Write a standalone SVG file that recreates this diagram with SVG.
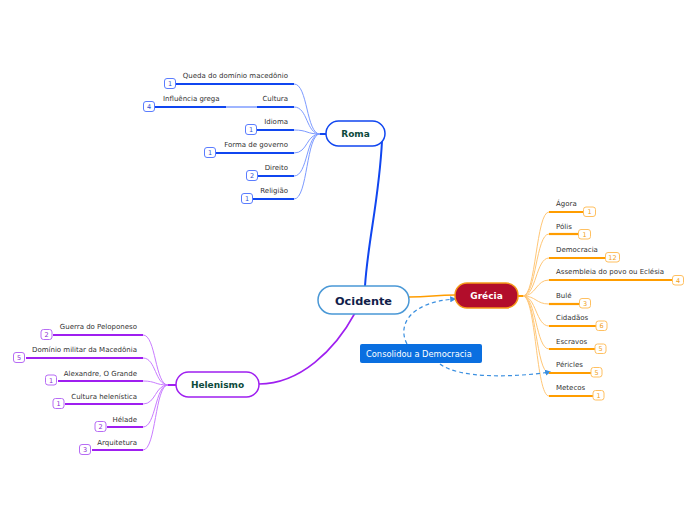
<svg xmlns="http://www.w3.org/2000/svg" width="696" height="520" viewBox="0 0 696 520">
<defs>
<marker id="arr" viewBox="0 0 10 10" refX="8" refY="5" markerWidth="6" markerHeight="6" orient="auto" markerUnits="userSpaceOnUse">
<path d="M0,0 L10,5 L0,10 z" fill="#3a8fe0"/>
</marker>
</defs>
<style>
text{font-family:"DejaVu Sans",Verdana,sans-serif}
.lbl{font-size:7px;fill:#333}
.bn{font-size:6.5px;text-anchor:middle}
.rc{fill:none;stroke:#7d9bff;stroke-width:1}
.ru{stroke:#1046f0;stroke-width:2.2;fill:none}
.rb{fill:#fff;stroke:#5b7dff;stroke-width:1}
.rt{fill:#3050d0}
.gc{fill:none;stroke:#ffc777;stroke-width:1}
.gu{stroke:#ff9d00;stroke-width:2.2;fill:none}
.gb{fill:#fff;stroke:#ffc060;stroke-width:1}
.gt{fill:#f0a020}
.hc{fill:none;stroke:#c97cff;stroke-width:1}
.hu{stroke:#9f1ff0;stroke-width:2.2;fill:none}
.hb{fill:#fff;stroke:#b76cf5;stroke-width:1}
.ht{fill:#8a2ad0}
.tn{font-weight:bold;font-size:9px;text-anchor:middle}
</style>

<g id="connectors">
<path d="M382,141 C 379,200 368,240 365,286" fill="none" stroke="#1046f0" stroke-width="2"/>
<path d="M409,297 C 430,297 435,295 455,295" fill="none" stroke="#ff9d00" stroke-width="1.5"/>
<path d="M259,384 C 300,384 335,350 355,313" fill="none" stroke="#9f1ff0" stroke-width="1.6"/>
<!-- Roma branches -->
<line x1="326" y1="134" x2="320" y2="134" stroke="#1046f0" stroke-width="2"/>
<path class="rc" d="M320,134 C 306,134 308,84 294,84"/>
<path class="rc" d="M320,134 C 306,134 308,107 294,107"/>
<path class="rc" d="M320,134 C 306,134 308,130 294,130"/>
<path class="rc" d="M320,134 C 306,134 308,153 294,153"/>
<path class="rc" d="M320,134 C 306,134 308,176 294,176"/>
<path class="rc" d="M320,134 C 306,134 308,199 294,199"/>
<line x1="226" y1="107" x2="257" y2="107" stroke="#9fb5ff" stroke-width="2"/>
<!-- Grécia branches -->
<line x1="518" y1="296" x2="523" y2="296" stroke="#ff9d00" stroke-width="2"/>
<path class="gc" d="M523,296 C 536,296 536,212 549,212"/>
<path class="gc" d="M523,296 C 536,296 536,234 549,234"/>
<path class="gc" d="M523,296 C 536,296 536,258 549,258"/>
<path class="gc" d="M523,296 C 536,296 536,280 549,280"/>
<path class="gc" d="M523,296 C 536,296 536,304 549,304"/>
<path class="gc" d="M523,296 C 536,296 536,326 549,326"/>
<path class="gc" d="M523,296 C 536,296 536,349 549,349"/>
<path class="gc" d="M523,296 C 536,296 536,373 549,373"/>
<path class="gc" d="M523,296 C 536,296 536,396 549,396"/>
<!-- Helenismo branches -->
<line x1="176" y1="385" x2="168" y2="385" stroke="#9f1ff0" stroke-width="2"/>
<path class="hc" d="M168,385 C 155,385 156,335 143,335"/>
<path class="hc" d="M168,385 C 155,385 156,358 143,358"/>
<path class="hc" d="M168,385 C 155,385 156,381 143,381"/>
<path class="hc" d="M168,385 C 155,385 156,404 143,404"/>
<path class="hc" d="M168,385 C 155,385 156,427 143,427"/>
<path class="hc" d="M168,385 C 155,385 156,450 143,450"/>
<!-- dashed relations -->
<path d="M407,344 C 397,325 410,302 455,299" fill="none" stroke="#3a8fe0" stroke-width="1.2" stroke-dasharray="4,3" marker-end="url(#arr)"/>
<path d="M440,364 C 458,378 510,378 550,372" fill="none" stroke="#3a8fe0" stroke-width="1.2" stroke-dasharray="4,3" marker-end="url(#arr)"/>
</g>

<g id="ocidente">
<rect x="318" y="286" width="91" height="28" rx="14" fill="#fff" stroke="#4a98d6" stroke-width="1.5"/>
<text x="363.5" y="304.5" font-size="11.3" font-weight="bold" text-anchor="middle" fill="#10204a">Ocidente</text>
</g>

<g id="roma">
<rect x="326" y="121" width="59" height="25" rx="12.5" fill="#fff" stroke="#1046f0" stroke-width="1.5"/>
<text class="tn" x="355.5" y="137" fill="#0d4a3c">Roma</text>
</g>
<g id="roma-queda">
<line class="ru" x1="176" y1="84" x2="294" y2="84"/>
<text class="lbl" x="288" y="78" text-anchor="end">Queda do domínio macedônio</text>
<rect class="rb" x="164.5" y="78.5" width="11" height="10" rx="2.5"/><text class="bn rt" x="170" y="86">1</text>
</g>
<g id="roma-cultura">
<line class="ru" x1="257" y1="107" x2="294" y2="107"/>
<text class="lbl" x="288" y="101" text-anchor="end">Cultura</text>
</g>
<g id="roma-influencia">
<line class="ru" x1="155" y1="107" x2="226" y2="107"/>
<text class="lbl" x="163" y="101">Influência grega</text>
<rect class="rb" x="143.5" y="101.5" width="11" height="10" rx="2.5"/><text class="bn rt" x="149" y="109">4</text>
</g>
<g id="roma-idioma">
<line class="ru" x1="257" y1="130" x2="294" y2="130"/>
<text class="lbl" x="288" y="124" text-anchor="end">Idioma</text>
<rect class="rb" x="245.5" y="124.5" width="11" height="10" rx="2.5"/><text class="bn rt" x="251" y="132">1</text>
</g>
<g id="roma-forma">
<line class="ru" x1="216" y1="153" x2="294" y2="153"/>
<text class="lbl" x="288" y="147" text-anchor="end">Forma de governo</text>
<rect class="rb" x="204.5" y="147.5" width="11" height="10" rx="2.5"/><text class="bn rt" x="210" y="155">1</text>
</g>
<g id="roma-direito">
<line class="ru" x1="258" y1="176" x2="294" y2="176"/>
<text class="lbl" x="288" y="170" text-anchor="end">Direito</text>
<rect class="rb" x="246.5" y="170.5" width="11" height="10" rx="2.5"/><text class="bn rt" x="252" y="178">2</text>
</g>
<g id="roma-religiao">
<line class="ru" x1="253" y1="199" x2="294" y2="199"/>
<text class="lbl" x="288" y="193" text-anchor="end">Religião</text>
<rect class="rb" x="241.5" y="193.5" width="11" height="10" rx="2.5"/><text class="bn rt" x="247" y="201">1</text>
</g>

<g id="grecia">
<rect x="455" y="283" width="63" height="25" rx="12" fill="#b20d2b" stroke="#f59a1a" stroke-width="1.5"/>
<text class="tn" x="486.5" y="299" fill="#fff">Grécia</text>
</g>
<g id="g-agora">
<line class="gu" x1="549" y1="212" x2="583" y2="212"/>
<text class="lbl" x="556" y="206">Ágora</text>
<rect class="gb" x="583.5" y="207" width="12" height="9.5" rx="2.5"/><text class="bn gt" x="589.5" y="214.2">1</text>
</g>
<g id="g-polis">
<line class="gu" x1="549" y1="234" x2="578" y2="234"/>
<text class="lbl" x="556" y="228.5">Pólis</text>
<rect class="gb" x="578.5" y="229.5" width="12" height="9.5" rx="2.5"/><text class="bn gt" x="584.5" y="236.7">1</text>
</g>
<g id="g-democracia">
<line class="gu" x1="549" y1="258" x2="605" y2="258"/>
<text class="lbl" x="556" y="251.5">Democracia</text>
<rect class="gb" x="605.5" y="252.5" width="14" height="9.5" rx="2.5"/><text class="bn gt" x="612.5" y="259.7">12</text>
</g>
<g id="g-assembleia">
<line class="gu" x1="549" y1="280" x2="672" y2="280"/>
<text class="lbl" x="556" y="274">Assembleia do povo ou Eclésia</text>
<rect class="gb" x="672.5" y="275.5" width="11" height="9.5" rx="2.5"/><text class="bn gt" x="678" y="282.7">4</text>
</g>
<g id="g-bule">
<line class="gu" x1="549" y1="304" x2="579" y2="304"/>
<text class="lbl" x="556" y="297.5">Bulé</text>
<rect class="gb" x="579.5" y="298.5" width="11" height="9.5" rx="2.5"/><text class="bn gt" x="585" y="305.7">3</text>
</g>
<g id="g-cidadaos">
<line class="gu" x1="549" y1="326" x2="596" y2="326"/>
<text class="lbl" x="556" y="320">Cidadãos</text>
<rect class="gb" x="596" y="321" width="11" height="9.5" rx="2.5"/><text class="bn gt" x="601.5" y="328.2">6</text>
</g>
<g id="g-escravos">
<line class="gu" x1="549" y1="349" x2="595" y2="349"/>
<text class="lbl" x="556" y="343.5">Escravos</text>
<rect class="gb" x="595" y="344" width="11" height="9.5" rx="2.5"/><text class="bn gt" x="600.5" y="351.2">5</text>
</g>
<g id="g-pericles">
<line class="gu" x1="549" y1="373" x2="591" y2="373"/>
<text class="lbl" x="556" y="366.5">Péricles</text>
<rect class="gb" x="591" y="367.5" width="11" height="9.5" rx="2.5"/><text class="bn gt" x="596.5" y="374.7">5</text>
</g>
<g id="g-metecos">
<line class="gu" x1="549" y1="396" x2="593" y2="396"/>
<text class="lbl" x="556" y="389.5">Metecos</text>
<rect class="gb" x="593" y="390.5" width="11" height="9.5" rx="2.5"/><text class="bn gt" x="598.5" y="397.7">1</text>
</g>

<g id="helenismo">
<rect x="176" y="372" width="83" height="25" rx="12.5" fill="#fff" stroke="#9f1ff0" stroke-width="1.5"/>
<text class="tn" x="217.5" y="388" fill="#0d4a3c">Helenismo</text>
</g>
<g id="h-guerra">
<line class="hu" x1="53" y1="335" x2="143" y2="335"/>
<text class="lbl" x="137" y="328.5" text-anchor="end">Guerra do Peloponeso</text>
<rect class="hb" x="41" y="329.5" width="11" height="10" rx="2.5"/><text class="bn ht" x="46.5" y="337">2</text>
</g>
<g id="h-dominio">
<line class="hu" x1="26" y1="358" x2="143" y2="358"/>
<text class="lbl" x="137" y="352" text-anchor="end">Domínio militar da Macedônia</text>
<rect class="hb" x="13.5" y="352.5" width="11" height="10" rx="2.5"/><text class="bn ht" x="19" y="360">5</text>
</g>
<g id="h-alexandre">
<line class="hu" x1="58" y1="381" x2="143" y2="381"/>
<text class="lbl" x="137" y="376" text-anchor="end">Alexandre, O Grande</text>
<rect class="hb" x="45.5" y="375" width="11" height="10" rx="2.5"/><text class="bn ht" x="51" y="382.5">1</text>
</g>
<g id="h-cultura">
<line class="hu" x1="65" y1="404" x2="143" y2="404"/>
<text class="lbl" x="137" y="398.5" text-anchor="end">Cultura helenística</text>
<rect class="hb" x="53" y="398.5" width="11" height="10" rx="2.5"/><text class="bn ht" x="58.5" y="406">1</text>
</g>
<g id="h-helade">
<line class="hu" x1="107" y1="427" x2="143" y2="427"/>
<text class="lbl" x="137" y="421.5" text-anchor="end">Hélade</text>
<rect class="hb" x="95" y="421.5" width="11" height="10" rx="2.5"/><text class="bn ht" x="100.5" y="429">2</text>
</g>
<g id="h-arquitetura">
<line class="hu" x1="92" y1="450" x2="143" y2="450"/>
<text class="lbl" x="137" y="444.5" text-anchor="end">Arquitetura</text>
<rect class="hb" x="79.5" y="444.5" width="11" height="10" rx="2.5"/><text class="bn ht" x="85" y="452">3</text>
</g>

<g id="consolidou">
<rect x="360" y="344" width="122" height="19" rx="2" fill="#0a6fe0"/>
<text x="366" y="357" font-size="8.3" fill="#fff">Consolidou a Democracia</text>
</g>
</svg>
